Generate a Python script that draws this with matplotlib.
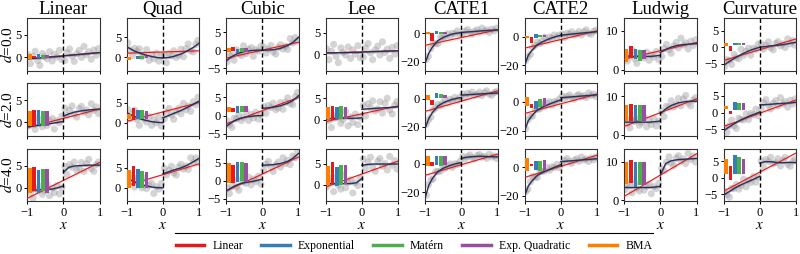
import matplotlib
matplotlib.use('Agg')
import matplotlib.pyplot as plt
from matplotlib.lines import Line2D

plt.rcParams['font.family'] = ['Liberation Serif', 'DejaVu Serif']
plt.rcParams['mathtext.fontset'] = 'stix'

titles = ['Linear', 'Quad', 'Cubic', 'Lee', 'CATE1', 'CATE2', 'Ludwig', 'Curvature']
d_values = [0.0, 2.0, 4.0]
model_names = ['Linear', 'Exponential', 'Matérn', 'Exp. Quadratic', 'BMA']
model_colors = ['#e41a1c', '#377eb8', '#4daf4a', '#984ea3', '#ff7f00']
# inset bars: BMA first, then the four kernels
bar_colors = ['#ff7f00', '#e41a1c', '#377eb8', '#4daf4a', '#984ea3']
bar_x = [-0.93, -0.81, -0.69, -0.57, -0.45]

ylims = [(-3.1, 8.8), (-3.4, 9.8), (-5.7, 8.9), (-3.9, 8.5),
         (-26.5, 10.8), (-23.8, 13.0), (-0.3, 13.3), (-7.1, 8.8)]
yticks = [[0, 5], [0, 5], [-5, 0, 5], [0, 5], [-20, 0], [-20, 0], [0, 10], [-5, 0, 5]]

# sample positions (shared by all panels)
x_obs = [-0.97, -0.91, -0.84, -0.78, -0.71, -0.65, -0.58, -0.52, -0.45, -0.38, -0.31, -0.25, -0.18, -0.11, -0.04,
         0.04, 0.10, 0.17, 0.24, 0.30, 0.37, 0.44, 0.50, 0.57, 0.64, 0.70, 0.77, 0.84, 0.91, 0.97]
x_fit_left = [-1, -0.9, -0.8, -0.65, -0.5, -0.3, -0.15, 0]
x_fit_right = [0, 0.15, 0.3, 0.5, 0.7, 0.85, 1]

# ---- Linear ----
obs_linear = [
    [0.5, -1.5, 0.1, 1.3, -0.8, -1.9, 0.8, 0.1, -0.4, 1.2, -0.9, 0.6, 0.0, 1.5, -0.6,
     -0.8, 1.0, 1.8, 0.2, -1.0, 0.7, 1.5, -0.1, 2.4, 0.5, 1.2, -0.5, 1.6, 0.4, 1.9],
    [-0.8, 0.7, 0.2, -1.6, 1.0, -0.3, -1.0, 1.6, -0.7, 0.4, 0.9, -1.5, 0.4, -0.1, 1.4,
     3.2, 1.6, 2.7, 3.7, 1.9, 1.2, 3.1, 3.6, 2.3, 2.8, 1.7, 4.2, 2.7, 3.5, 2.0],
    [0.3, -1.2, -2.4, -0.2, -0.6, 0.3, -1.5, -0.7, 0.8, -1.8, -0.1, -1.1, 0.5, -1.4, 0.0,
     4.8, 3.0, 5.2, 4.6, 5.8, 3.9, 4.4, 5.7, 3.7, 5.4, 6.4, 4.3, 3.7, 5.2, 5.8],
]
fit_linear = [
    ([-0.4, -0.34, -0.28, -0.19, -0.1, 0.02, 0.11, 0.2], [0.25, 0.36, 0.48, 0.62, 0.77, 0.89, 1.0]),
    ([-1.0, -0.9, -0.8, -0.6, -0.45, -0.2, 0.0, 0.2], [1.4, 1.9, 2.3, 2.6, 2.8, 2.9, 3.0]),
    ([-0.8, -0.7, -0.6, -0.45, -0.35, -0.3, 0.0, 0.4], [3.5, 4.6, 4.9, 5.0, 5.1, 5.1, 5.1]),
]
red_linear = [(-0.4, 1.0), (-1.2, 3.0), (-2.4, 5.7)]
bars_linear = [
    [(-0.4, 0.6), (-0.2, 0.3), (-0.3, 0.7), (-0.3, 0.5), (-0.3, 0.4)],
    [(-0.9, 2.6), (-0.9, 2.8), (-0.7, 2.7), (-0.8, 2.6), (-0.8, 2.5)],
    [(-1.1, 4.4), (-0.7, 4.7), (-1.2, 4.1), (-0.8, 4.2), (-1.1, 4.2)],
]

# ---- Quad ----
obs_quad = [
    [3.6, 1.9, 0.4, 2.2, 1.5, 2.1, 0.1, 0.6, 1.9, -0.8, 0.7, -0.4, 1.0, -1.0, 0.3,
     0.5, -1.4, 0.9, 0.3, 1.6, -0.1, 0.5, 2.0, 0.1, 2.1, 3.3, 1.6, 1.3, 3.2, 4.2],
    [3.2, 1.0, 2.2, 3.1, 0.7, -0.7, 1.8, 0.8, 0.1, 1.5, -0.7, 0.7, -0.1, 1.3, -0.9,
     0.9, 2.6, 3.5, 1.9, 0.8, 2.7, 3.6, 2.2, 4.8, 3.2, 4.1, 2.8, 5.2, 4.4, 6.3],
    [1.9, 3.2, 2.3, 0.2, 2.5, 0.9, 0.0, 2.3, -0.2, 0.7, 1.1, -1.4, 0.3, -0.3, 1.1,
     4.9, 3.2, 4.4, 5.4, 3.7, 3.2, 5.2, 5.9, 4.7, 5.5, 4.6, 7.5, 6.3, 7.5, 6.4],
]
fit_quad = [
    ([2.6, 2.1, 1.6, 1.05, 0.6, 0.15, -0.1, -0.2], [-0.2, -0.1, 0.2, 0.8, 1.7, 2.5, 3.5]),
    ([2.5, 2.0, 1.6, 1.0, 0.6, 0.2, 0.05, 0.0], [1.2, 1.7, 2.3, 3.0, 3.9, 4.6, 5.4]),
    ([2.4, 2.0, 1.6, 1.0, 0.6, 0.2, 0.05, 0.0], [3.5, 4.0, 4.5, 5.0, 5.8, 6.6, 7.4]),
]
red_quad = [(1.0, 1.6), (0.3, 5.0), (0.6, 6.0)]
bars_quad = [
    [(-0.8, 0.0), (0.0, 0.05), (-0.4, 0.4), (-0.4, 0.4), (-0.1, 0.2)],
    [(0.8, 2.1), (0.6, 3.6), (1.0, 3.1), (0.8, 3.1), (0.9, 2.9)],
    [(-0.1, 4.4), (0.4, 5.4), (-0.1, 4.7), (-0.1, 4.3), (0.0, 4.0)],
]

# ---- Cubic ----
obs_cubic = [
    [-3.2, -1.3, -1.4, -2.8, 0.1, -1.0, -1.5, 1.2, -1.0, 0.2, 0.7, -1.7, 0.2, -0.3, 1.1,
     0.9, -0.8, 0.3, 1.3, -0.5, -1.1, 0.8, 1.5, 0.3, 1.1, 0.2, 3.2, 2.0, 3.5, 2.6],
    [-1.5, -2.6, -3.3, -0.8, -0.9, 0.2, -1.4, -0.5, 1.1, -1.4, 0.3, -0.7, 0.9, -1.0, 0.3,
     2.5, 0.6, 2.8, 2.2, 3.4, 1.6, 2.1, 3.6, 1.7, 3.7, 4.9, 3.3, 3.0, 5.2, 6.4],
    [-1.9, -3.5, -1.5, 0.1, -1.7, -2.6, 0.3, -0.3, -0.7, 1.0, -1.1, 0.5, -0.2, 1.3, -0.9,
     2.9, 4.6, 5.4, 3.8, 2.6, 4.4, 5.2, 3.8, 6.4, 4.8, 5.7, 4.5, 6.9, 6.4, 8.3],
]
fit_cubic = [
    ([-3.0, -2.2, -1.5, -0.8, -0.4, -0.1, 0.0, 0.0], [0.0, 0.05, 0.1, 0.5, 1.3, 2.2, 3.6]),
    ([-3.0, -2.3, -1.6, -0.9, -0.5, -0.2, -0.05, 0.0], [2.0, 2.1, 2.3, 2.7, 3.4, 4.2, 5.5]),
    ([-2.8, -2.2, -1.6, -0.9, -0.5, -0.2, 0.1, 0.5], [4.3, 4.4, 4.5, 4.8, 5.4, 6.3, 7.6]),
]
red_cubic = [(-2.2, 2.2), (-2.3, 5.0), (-2.8, 6.6)]
bars_cubic = [
    [(-0.5, 0.7), (-0.3, 0.9), (-0.7, 0.4), (-0.6, 0.5), (-0.6, 0.5)],
    [(0.9, 2.3), (1.0, 2.1), (0.8, 2.5), (0.9, 2.6), (0.9, 2.5)],
    [(-0.5, 4.9), (-0.5, 4.4), (-0.2, 5.2), (0.0, 5.2), (-0.2, 4.9)],
]

# ---- Lee ----
obs_lee = [
    [1.3, -1.3, 0.7, 2.3, -0.5, -2.0, 1.5, 0.4, -0.2, 1.7, -1.0, 1.0, 0.0, 2.0, -0.9,
     -0.7, 1.5, 2.5, 0.3, -1.3, 1.0, 1.9, -0.2, 2.9, 0.4, 1.2, -1.0, 1.6, 0.0, 2.0],
    [1.7, -0.3, -1.9, 0.9, 0.4, 1.4, -0.9, 0.0, 1.9, -1.5, 0.6, -0.7, 1.3, -1.2, 0.5,
     3.3, 0.8, 3.7, 2.8, 4.4, 2.0, 2.5, 4.2, 1.5, 3.8, 5.0, 2.2, 1.3, 3.4, 4.2],
    [-0.5, 1.5, 0.7, -1.6, 1.8, -0.1, -1.0, 2.3, -0.7, 0.6, 1.2, -1.9, 0.5, -0.2, 1.6,
     6.1, 3.9, 5.3, 6.5, 4.1, 3.2, 5.6, 6.2, 4.4, 5.0, 3.5, 6.7, 4.6, 5.7, 3.7],
]
fit_lee = [
    ([0.3, 0.3, 0.3, 0.35, 0.35, 0.4, 0.4, 0.4], [0.5, 0.55, 0.6, 0.65, 0.7, 0.75, 0.8]),
    ([0.2, 0.2, 0.25, 0.3, 0.3, 0.3, 0.3, 0.4], [2.4, 2.5, 2.6, 2.7, 2.8, 2.9, 3.0]),
    ([0.3, 0.3, 0.3, 0.3, 0.3, 0.3, 0.5, 1.5], [4.6, 4.8, 4.9, 4.9, 4.9, 4.9, 4.9]),
]
red_lee = [(0.3, 0.8), (-0.5, 3.2), (-0.5, 5.6)]
bars_lee = [
    [(0.3, 0.35), (0.3, 0.35), (0.3, 0.35), (0.3, 0.35), (0.3, 0.35)],
    [(0.1, 3.0), (0.0, 3.1), (0.2, 3.0), (0.1, 3.1), (0.2, 3.0)],
    [(0.0, 4.5), (0.3, 5.3), (-0.3, 4.3), (0.0, 4.6), (0.3, 4.6)],
]

# ---- CATE1 ----
obs_cate1 = [
    [-18.5, -16.2, -10.9, -7.0, -7.4, -7.4, -2.9, -3.0, -2.8, -0.3, -2.2, 0.0, -0.4, 1.7, -0.7,
     -0.6, 1.5, 2.6, 0.7, -0.6, 1.5, 2.5, 0.8, 3.7, 1.6, 2.4, 0.5, 3.0, 1.7, 3.6],
    [-18.1, -15.2, -13.1, -8.1, -6.5, -4.0, -5.0, -3.2, -0.6, -3.0, -0.5, -1.3, 0.9, -1.1, 0.8,
     3.2, 1.0, 3.8, 3.0, 4.6, 2.4, 3.0, 4.6, 2.2, 4.3, 5.5, 3.1, 2.4, 4.3, 5.1],
    [-22.1, -14.8, -11.3, -10.7, -5.4, -5.4, -5.1, -1.1, -3.0, -1.1, 0.1, -2.4, 0.1, -0.2, 1.8,
     5.3, 3.5, 5.2, 6.4, 4.5, 3.7, 6.0, 6.7, 5.0, 5.5, 4.0, 6.9, 4.9, 5.7, 3.9],
]
fit_cate1 = [
    ([-21, -14, -9.7, -5.2, -2.9, -0.9, 0.0, 0.5], [0.6, 0.9, 1.2, 1.6, 2.0, 2.2, 2.5]),
    ([-21, -14, -9.8, -5.3, -2.9, -0.9, 0.1, 0.8], [2.5, 2.7, 3.0, 3.3, 3.6, 3.8, 4.0]),
    ([-24, -15, -10.2, -5.4, -3.0, -0.9, 0.2, 1.0], [4.0, 4.8, 5.2, 5.5, 5.3, 5.1, 5.0]),
]
red_cate1 = [(-8.5, 2.5), (-9.0, 5.5), (-8.0, 7.0)]
bars_cate1 = [
    [(-0.5, 1.2), (-5.8, 0.0), (-0.7, 1.7), (-0.5, 1.0), (-0.3, 0.9)],
    [(-0.8, 2.7), (-4.3, -0.8), (0.4, 3.9), (0.4, 3.2), (0.2, 2.5)],
    [(-1.2, 5.5), (-1.1, 1.1), (-0.5, 5.5), (-1.5, 6.0), (-0.5, 6.0)],
]

# ---- CATE2 ----
obs_cate2 = [
    [-16.6, -14.2, -12.3, -7.5, -6.1, -3.7, -4.8, -3.0, -0.4, -2.8, -0.3, -1.0, 1.2, -0.7, 1.2,
     1.7, -0.5, 2.4, 1.7, 3.4, 1.2, 1.9, 3.6, 1.2, 3.4, 4.7, 2.3, 1.7, 3.7, 4.5],
    [-18.6, -12.6, -10.0, -9.9, -4.9, -5.1, -4.9, -1.0, -2.9, -1.0, 0.2, -2.2, 0.3, 0.1, 2.1,
     4.2, 2.2, 3.8, 4.9, 2.9, 2.2, 4.5, 5.2, 3.7, 4.4, 3.1, 6.3, 4.5, 5.5, 3.9],
    [-17.0, -15.2, -10.1, -6.4, -7.0, -7.1, -2.7, -2.8, -2.6, -0.1, -2.0, 0.3, -0.1, 2.1, -0.3,
     2.8, 4.9, 6.1, 4.1, 2.8, 5.0, 6.0, 4.2, 7.2, 5.1, 5.9, 4.0, 6.5, 5.2, 7.2],
]
fit_cate2 = [
    ([-20, -13, -9.5, -5.6, -3.5, -1.3, 0.0, 1.0], [1.0, 1.4, 1.8, 2.3, 2.8, 3.1, 3.5]),
    ([-20, -13, -9.5, -5.6, -3.5, -1.3, 0.2, 1.5], [3.0, 3.3, 3.6, 4.0, 4.4, 4.7, 5.0]),
    ([-20, -13, -9.5, -5.6, -3.5, -1.3, 0.3, 1.8], [4.0, 4.3, 4.6, 5.0, 5.4, 5.7, 6.0]),
]
red_cate2 = [(-8.0, 4.0), (-8.0, 5.5), (-7.0, 8.5)]
bars_cate2 = [
    [(-1.0, 0.8), (-4.2, 0.0), (-0.6, 1.9), (-0.3, 1.4), (-0.3, 1.2)],
    [(-2.8, 3.5), (-4.0, -1.7), (-5.0, 0.5), (-3.3, 2.0), (-3.0, 3.0)],
    [(-2.3, 6.2), (0.7, 2.3), (-1.6, 4.6), (-2.3, 4.6), (-2.3, 5.3)],
]

# ---- Ludwig ----
obs_ludwig = [
    [4.2, 2.2, 3.7, 4.9, 2.8, 1.6, 4.3, 3.5, 3.0, 4.5, 2.4, 3.9, 3.2, 4.7, 2.5,
     3.4, 5.4, 6.5, 5.1, 4.2, 6.1, 7.0, 5.6, 8.1, 6.3, 6.9, 5.3, 7.3, 6.2, 7.7],
    [4.5, 3.0, 1.8, 3.9, 3.5, 4.3, 2.5, 3.2, 4.7, 2.1, 3.7, 2.7, 4.2, 2.3, 3.6,
     6.2, 4.7, 7.4, 7.2, 8.8, 7.2, 7.9, 9.4, 7.5, 9.3, 10.2, 8.2, 7.5, 9.0, 9.6],
    [2.8, 4.3, 3.7, 1.9, 4.5, 3.1, 2.4, 4.9, 2.6, 3.6, 4.1, 1.7, 3.5, 3.0, 4.4,
     8.2, 7.7, 9.8, 11.2, 9.6, 9.0, 10.9, 11.5, 10.1, 10.7, 9.5, 12.1, 10.5, 11.4, 9.9],
]
fit_ludwig = [
    ([3.5, 3.5, 3.4, 3.4, 3.4, 3.4, 3.5, 3.7], [4.4, 5.2, 5.8, 6.3, 6.5, 6.6, 6.7]),
    ([3.3, 3.3, 3.3, 3.3, 3.3, 3.3, 3.4, 3.6], [5.5, 6.7, 7.6, 8.3, 8.6, 8.7, 8.7]),
    ([3.3, 3.3, 3.3, 3.3, 3.3, 3.3, 3.4, 3.6], [6.5, 9.5, 10.2, 10.5, 10.6, 10.7, 10.8]),
]
red_ludwig = [(2.7, 7.0), (2.2, 9.3), (1.0, 12.0)]
bars_ludwig = [
    [(2.0, 5.2), (3.1, 6.0), (2.6, 5.4), (2.3, 5.1), (2.6, 5.1)],
    [(3.5, 7.6), (3.6, 7.9), (3.5, 7.6), (3.5, 7.6), (3.5, 7.6)],
    [(4.1, 10.0), (4.4, 10.3), (3.3, 10.0), (4.0, 10.0), (4.0, 10.0)],
]

# ---- Curvature ----
obs_curvature = [
    [-5.8, -3.8, -3.9, -5.2, -2.2, -3.2, -3.5, -0.6, -2.5, -1.2, -0.3, -2.4, -0.3, -0.6, 1.0,
     1.0, -0.6, 0.6, 1.6, -0.2, -0.8, 1.1, 1.7, 0.4, 1.0, -0.1, 2.5, 1.0, 2.0, 0.6],
    [-4.5, -6.0, -4.0, -2.3, -4.0, -4.8, -1.7, -2.1, -2.2, -0.4, -2.1, -0.3, -0.7, 1.0, -1.0,
     1.2, 3.0, 3.9, 2.2, 1.1, 2.8, 3.6, 2.0, 4.5, 2.6, 3.3, 1.6, 3.7, 2.6, 4.1],
    [-4.1, -5.1, -5.8, -3.2, -3.2, -2.0, -3.4, -2.3, -0.4, -2.7, -0.7, -1.4, 0.4, -1.3, 0.2,
     5.1, 3.3, 5.6, 5.0, 6.2, 4.3, 4.6, 5.8, 3.6, 5.3, 6.2, 4.1, 3.5, 5.0, 5.5],
]
fit_curvature = [
    ([-5.5, -4.7, -4.0, -3.0, -2.1, -1.1, -0.5, 0.0], [0.0, 0.2, 0.4, 0.6, 0.9, 1.2, 1.5]),
    ([-5.5, -4.7, -4.0, -3.0, -2.1, -1.1, -0.5, 0.2], [2.3, 2.4, 2.5, 2.7, 2.8, 2.9, 3.1]),
    ([-5.2, -4.5, -3.8, -2.8, -2.0, -1.0, -0.3, 0.5], [4.5, 4.9, 4.9, 4.6, 4.6, 4.7, 4.6]),
]
red_curvature = [(-4.0, 2.5), (-4.2, 3.8), (-4.0, 7.5)]
bars_curvature = [
    [(0.3, 1.3), (-1.0, 0.3), (0.6, 1.3), (0.6, 1.3), (0.6, 1.3)],
    [(1.0, 2.0), (-0.4, 0.4), (0.8, 3.2), (0.8, 3.0), (0.7, 3.0)],
    [(1.1, 5.7), (-0.5, 3.7), (1.1, 6.8), (1.1, 6.3), (1.1, 5.7)],
]

columns = [
    (obs_linear, fit_linear, red_linear, bars_linear),
    (obs_quad, fit_quad, red_quad, bars_quad),
    (obs_cubic, fit_cubic, red_cubic, bars_cubic),
    (obs_lee, fit_lee, red_lee, bars_lee),
    (obs_cate1, fit_cate1, red_cate1, bars_cate1),
    (obs_cate2, fit_cate2, red_cate2, bars_cate2),
    (obs_ludwig, fit_ludwig, red_ludwig, bars_ludwig),
    (obs_curvature, fit_curvature, red_curvature, bars_curvature),
]

fig, axes = plt.subplots(3, 8, figsize=(8, 2.54), dpi=100, sharex=True, sharey='col')
fig.subplots_adjust(left=0.034, right=0.995, top=0.929, bottom=0.207, wspace=0.375, hspace=0.24)

for c, (obs, fits, reds, bars) in enumerate(columns):
    lo, hi = ylims[c]
    span = hi - lo
    for r in range(3):
        ax = axes[r, c]
        ax.scatter(x_obs, obs[r], s=26, color='#9a9a9a', alpha=0.42, edgecolors='none', zorder=1)

        # linear-kernel fit with its band
        red_lo, red_hi = reds[r]
        ax.fill_between([-1, 1], [red_lo - 0.025 * span, red_hi - 0.025 * span],
                        [red_lo + 0.025 * span, red_hi + 0.025 * span],
                        color='#e41a1c', alpha=0.12, lw=0, zorder=2)
        ax.plot([-1, 1], [red_lo, red_hi], color='#e41a1c', lw=0.8, zorder=3)

        # flexible-kernel fits, one piece on each side of the cutoff
        left, right = fits[r]
        for xs, ys in [(x_fit_left, left), (x_fit_right, right)]:
            ax.fill_between(xs, [v - 0.02 * span for v in ys], [v + 0.02 * span for v in ys],
                            color='#5b6d9e', alpha=0.28, lw=0, zorder=3)
            ax.plot(xs, ys, color='#2f2f58', lw=1.0, zorder=4)

        # estimated jumps
        for bx, (b, t), col in zip(bar_x, bars[r], bar_colors):
            ax.bar(bx, t - b, bottom=b, width=0.1, color=col, zorder=5)

        ax.axvline(0, color='black', lw=1.0, ls=(0, (3, 2)), zorder=6)

        ax.set_xlim(-1, 1)
        ax.set_ylim(lo, hi)
        ax.set_yticks(yticks[c])
        ax.set_xticks([-1, 0, 1])
        ax.tick_params(labelsize=9, length=2.5, width=0.7, pad=1.5)
        for sp in ax.spines.values():
            sp.set_linewidth(0.8)
            sp.set_color('#333333')
        if r == 0:
            ax.set_title(titles[c], fontsize=13.5, pad=2)
        if r == 2:
            ax.set_xlabel('$x$', fontsize=11, labelpad=0)
        if c == 0:
            ax.set_ylabel('$d$=%.1f' % d_values[r], fontsize=11, labelpad=0)

handles = [Line2D([0], [0], color=col, lw=2.5) for col in model_colors]
fig.legend(handles, model_names, loc='center', bbox_to_anchor=(0.5175, 0.031), ncol=5,
           frameon=False, fontsize=8.5, handlelength=2.4, columnspacing=1.55, handletextpad=0.7)
fig.add_artist(Line2D([0.219, 0.816], [0.0815, 0.0815], color='black', lw=0.8))

plt.savefig('out.png', dpi=100)
